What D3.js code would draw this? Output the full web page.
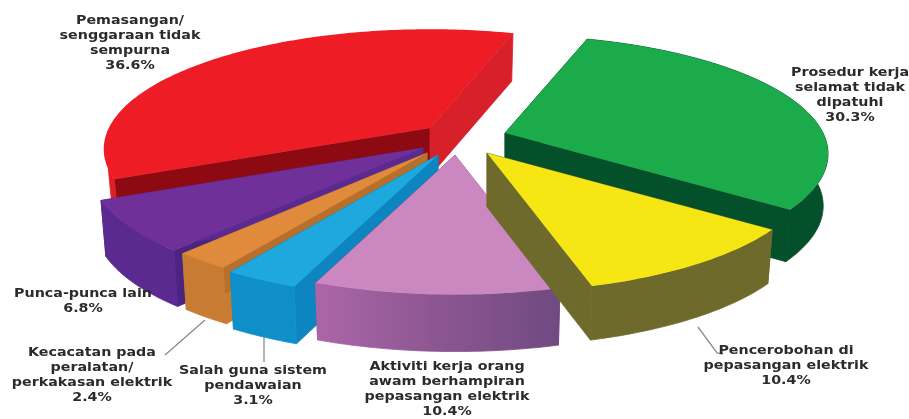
<!DOCTYPE html>
<html><head><meta charset="utf-8">
<script src="https://cdn.jsdelivr.net/npm/d3@7/dist/d3.min.js"></script>
<style>html,body{margin:0;padding:0;background:#fff}svg{display:block}</style>
</head><body><svg id="c" width="909" height="419"></svg>
<script>
// Data, clockwise from the red slice
const categories = [
  ["Pemasangan/","senggaraan tidak","sempurna"],
  ["Prosedur kerja","selamat tidak","dipatuhi"],
  ["Pencerobohan di","pepasangan elektrik"],
  ["Aktiviti kerja orang","awam berhampiran","pepasangan elektrik"],
  ["Salah guna sistem","pendawaian"],
  ["Kecacatan pada","peralatan/","perkakasan elektrik"],
  ["Punca-punca lain"]
];
const values = [36.6, 30.3, 10.4, 10.4, 3.1, 2.4, 6.8];
const valueLabels = ["36.6%","30.3%","10.4%","10.4%","3.1%","2.4%","6.8%"];

// Layout and style, per slice
const apex = [[430,128],[505,133],[487,153],[455,155],[438,155],[427,153],[423,148]];
const radiusScale = [1.01,1,1,1,1.03,1.01,1.03];
const depth = [48,52,54,57,57,56,56];
const outerSpan = [0.03,1,1,1,1,1,1];
const topColor = ["#ee1c25","#1cab4b","#f6e714","#cb88c0","#1fa8de","#e08a3c","#70309a"];
const outerColor = ["#e01d26","#04502a","#6e6a2c","url(#pinkWall)","#0f8fca","#c87b32","#5a2a90"];
const cutStartColor = ["#8e0a12","#04502a","#6e6a2c","#a964a6","#0c85c0","#c87b32","#4a2480"];
const cutEndColor = ["#d8202a","#04502a","#6e6a2c","#7a4a82","#0c85c0","#b86f2c","#5a2a90"];
const drawOrder = [0,1,6,5,4,3,2];
const labelPos = [[130,24],[850,76],[786,354],[447,370],[253,374],[92,356],[83,297]];
const lineGap = 15;
const labelStretch = 1.19;
const baseShrink = 0.985;
const leaders = [
  [[264,337],[264,362]],
  [[205,320],[165,355]],
  [[698,327],[717,353],[723,354]]
];

const svg = d3.select("#c");
const defs = svg.append("defs");
const grad = defs.append("linearGradient").attr("id","pinkWall");
[[0,"#ab66a8"],[0.5,"#8c5692"],[1,"#6f4a80"]].forEach(([o,c]) =>
  grad.append("stop").attr("offset",o).attr("stop-color",c));

const root = svg.append("g").style("filter","blur(0.5px)");

const pie = d3.pie().sort(null).value(d => d)
  .startAngle(-114.2*Math.PI/180).endAngle((360-114.2)*Math.PI/180);
const arcs = pie(values);

const R = 318, K = 115, P = 0.176;
function project(a, r){
  const x = Math.sin(a), y = -Math.cos(a), s = 1/(1-P*y);
  return [R*r*x*s, K*r*y*s];
}
const line = d3.line();
drawOrder.forEach(i => {
  const d = arcs[i], r = radiusScale[i], h = depth[i];
  const g = root.append("g").attr("transform",`translate(${apex[i][0]},${apex[i][1]})`);
  const n = Math.max(8, Math.ceil((d.endAngle-d.startAngle)*60));
  const rim = d3.range(n+1).map(j => project(d.startAngle+(d.endAngle-d.startAngle)*j/n, r));
  const down = p => [p[0]*baseShrink, p[1]+h];
  const first = rim[0], last = rim[n];
  const wall = (pts, c) => g.append("path").attr("d",line(pts)+"Z").attr("fill",c)
    .attr("stroke",c).attr("stroke-width",0.8).attr("stroke-linejoin","round");
  wall([[0,0],first,down(first),[0,h]], cutStartColor[i]);
  wall([[0,0],last,down(last),[0,h]], cutEndColor[i]);
  const wallRim = rim.slice(0, Math.ceil(n*outerSpan[i])+1);
  wall(wallRim.concat(wallRim.map(down).reverse()), outerColor[i]);
  g.append("path").attr("d",line([[0,0]].concat(rim))+"Z").attr("fill",topColor[i]);
});

leaders.forEach(l => root.append("path").attr("d",line(l)).attr("fill","none")
  .attr("stroke","#8a8a8a").attr("stroke-width",1.3));

categories.forEach((lines,i) => {
  const t = root.append("text").attr("text-anchor","middle")
    .attr("transform",`translate(${labelPos[i][0]},0) scale(${labelStretch},1)`)
    .attr("font-family","'DejaVu Sans',sans-serif").attr("font-weight","bold")
    .attr("font-size",12).attr("fill","#2b2b2b");
  lines.concat(valueLabels[i]).forEach((s,j) =>
    t.append("tspan").attr("x",0).attr("y",labelPos[i][1]+j*lineGap).text(s));
});
</script></body></html>
